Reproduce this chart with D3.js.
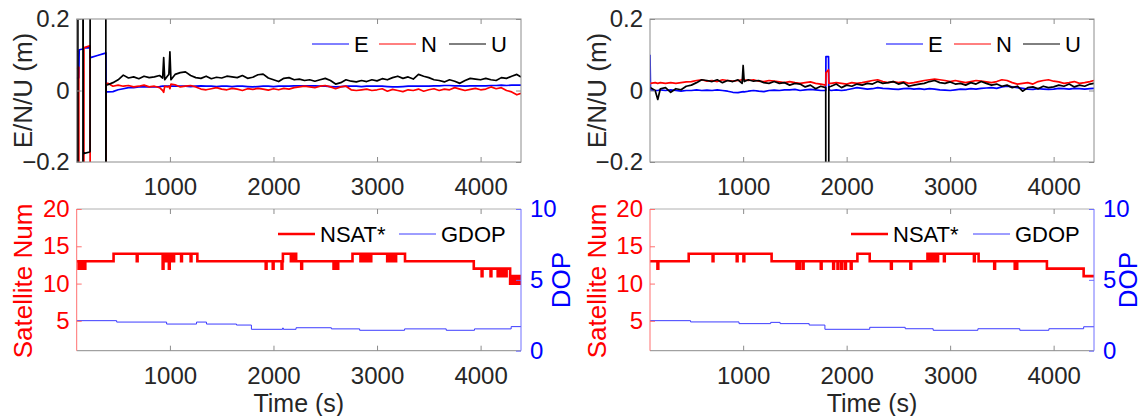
<!DOCTYPE html>
<html>
<head>
<meta charset="utf-8">
<script src="https://cdn.jsdelivr.net/npm/d3@7/dist/d3.min.js"></script>
<style>
body { margin: 0; background: #fff; }
svg text { font-family: "Liberation Sans", Arial, Helvetica, sans-serif; }
</style>
</head>
<body>
<div id="chart"></div>
<script>
// TIME AXIS
const xDomain = [100, 4390];
const xTicks = [1000, 2000, 3000, 4000];

// LEFT RUN: E/N/U ERRORS (m), values beyond +-0.2 are off the plot
const tL = [100,110,111,112,120,124,126,160,161,163,168,170,172,226,229,231,233,300,370,381,382,384,
  400,450,500,550,600,650,700,750,800,850,900,930,940,950,975,990,1000,1010,
  1050,1100,1150,1200,1250,1300,1350,1400,1450,1500,1550,1600,1650,1700,1750,1800,1850,1900,1950,2000,
  2050,2100,2150,2200,2250,2300,2350,2400,2450,2500,2550,2600,2650,2700,2750,2800,2850,2900,2950,3000,
  3050,3100,3150,3200,3250,3300,3350,3400,3450,3500,3550,3600,3650,3700,3750,3800,3850,3900,3950,4000,
  4050,4100,4150,4200,4250,4300,4350,4390];
const eL = [.033,.035,.035,.036,.036,.112,.114,.116,.116,.117,.118,.118,.119,.12,.118,.09,.092,.098,.104,.105,.105,-.004,
  -.004,-.003,.002,.005,.008,.008,.01,.01,.01,.01,.011,.012,.012,.012,.012,.012,.012,.012,
  .012,.012,.012,.011,.012,.013,.012,.012,.011,.012,.012,.011,.012,.012,.011,.01,.011,.012,.012,.011,
  .012,.012,.012,.013,.013,.013,.013,.013,.012,.012,.011,.01,.011,.012,.012,.012,.011,.012,.012,.012,
  .012,.011,.01,.01,.011,.012,.012,.012,.012,.012,.013,.013,.014,.014,.013,.013,.012,.013,.013,.013,
  .013,.014,.014,.015,.014,.015,.015,.015];
const nL = [.06,.063,.064,.063,.065,-1,-1,-1,-1,-1,-1,.118,.12,.125,.124,-1,-1,-1,-1,-1,-1,.02,
  .02,.012,.015,.012,.014,.01,.012,.015,.01,.012,.008,.0,-.005,.012,.01,.012,.005,.018,
  .016,.01,.012,.014,.01,.004,.002,.005,.008,.004,.002,.006,.004,.0,.005,.003,.006,.004,.001,.005,
  .002,.006,.004,.008,.01,.012,.01,.008,.012,.014,.01,.005,.01,.012,.002,.0,.002,.004,.0,.002,
  .005,-.002,.003,.0,-.003,.002,.0,.004,-.002,.002,.005,.0,.004,.002,.008,.004,.0,.003,.006,.002,
  .004,.01,.005,.008,.0,-.004,-.012,-.008];
const uL = [1,1,1,-1,-1,-1,-1,-1,1,-.175,-.175,-.174,-.176,-.172,-.17,1,1,1,1,1,-1,.015,
  .016,.022,.03,.043,.035,.038,.033,.04,.036,.038,.042,.035,.092,.03,.04,.045,.108,.03,
  .045,.05,.052,.042,.036,.034,.04,.033,.037,.035,.04,.038,.036,.042,.034,.037,.044,.046,.035,.03,
  .025,.034,.036,.03,.032,.028,.03,.026,.03,.034,.028,.018,.022,.03,.026,.024,.028,.025,.03,.027,
  .033,.03,.036,.04,.034,.038,.032,.045,.04,.036,.03,.028,.024,.03,.026,.02,.028,.034,.032,.03,
  .034,.03,.028,.036,.034,.04,.045,.038];

// RIGHT RUN: E/N/U ERRORS (m)
const tR = [100,105,150,175,200,250,300,350,400,450,500,550,600,650,700,750,800,850,900,950,
  990,1000,1010,1050,1100,1150,1200,1250,1300,1350,1400,1450,1500,1550,1600,1650,1700,1750,1798,1800,1825,1828,
  1850,1900,1950,2000,2050,2100,2150,2200,2250,2300,2350,2400,2450,2500,2550,2600,2650,2700,2750,2800,
  2850,2900,2950,3000,3050,3100,3150,3200,3250,3300,3350,3400,3450,3500,3550,3600,3650,3700,3750,3800,
  3850,3900,3950,4000,4050,4100,4150,4200,4250,4300,4350,4390];
const eR = [.1,.002,.0,.0,.002,.0,.002,.0,-.002,.0,.0,.002,.0,.001,.0,.002,.0,-.002,-.005,-.006,
  -.004,-.003,-.004,-.002,.0,-.002,-.003,.0,.001,.0,.002,.002,.003,.0,.002,.003,.002,.0,.0,.095,.095,.002,
  .0,.002,.0,.002,.005,.008,.006,.004,.005,.008,.006,.005,.004,.003,.005,.006,.004,.005,.003,.005,
  .004,.002,.001,.0,.002,.004,.003,.005,.004,.006,.007,.008,.006,.01,.012,.01,.008,.006,.004,.003,
  .005,.004,.003,.004,.006,.005,.004,.006,.005,.004,.005,.006];
const nR = [.02,.02,.022,.02,.022,.02,.022,.02,.022,.024,.025,.028,.03,.026,.028,.025,.03,.028,.026,.028,
  .03,.032,.03,.028,.03,.026,.025,.028,.026,.024,.022,.025,.022,.02,.022,.024,.02,.018,.015,.05,.058,.02,
  .02,.022,.02,.018,.022,.02,.022,.025,.028,.03,.025,.022,.025,.022,.024,.02,.022,.025,.028,.03,
  .032,.03,.028,.025,.028,.025,.022,.025,.028,.026,.024,.022,.025,.03,.028,.022,.018,.02,.022,.018,
  .025,.028,.03,.026,.024,.02,.022,.025,.02,.022,.025,.028];
const uR = [.01,.008,.0,-.025,.005,.008,-.005,.005,.002,.012,.015,.022,.03,.028,.025,.03,.022,.028,.025,.03,
  .02,.07,.025,.03,.026,.028,.022,.02,.025,.02,.022,.015,.02,.018,.01,.015,.005,.012,.008,-1,-1,.01,
  .012,.018,.008,.015,.012,.018,.015,.02,.018,.025,.02,.022,.025,.018,.022,.012,.015,.018,.02,.025,
  .028,.022,.02,.024,.018,.02,.015,.022,.018,.025,.02,.015,.018,.012,.015,.008,.012,-.002,.008,.01,
  .005,.012,.008,.01,.015,.012,.018,.01,.015,.012,.018,.02];

// SATELLITE NUMBER (step changes) AND GDOP
const tSatL = [100,118,124,128,136,140,150,154,166,170,183,456,680,688,
  930,938,945,955,965,972,980,990,998,1005,1012,1020,1030,1040,1108,1116,1200,1208,1265,
  1925,1933,1993,2001,2078,2086,2091,2168,2174,2180,2186,2192,2198,2205,2212,2219,2268,2276,
  2580,2590,2596,2606,2612,2625,2763,2840,2848,2855,2862,2870,2880,2888,2898,2905,2912,2920,2930,2936,2944,
  3098,3106,3112,3120,3128,3140,3148,3160,3168,3184,3270,3934,
  4010,4018,4096,4104,4165,4172,4180,4190,4198,4210,4220,4230,4240,4251,
  4285,4292,4298,4310,4316,4330,4336,4350,4356,4375,4380,4390];
const satL = [13,12,13,12,13,12,13,12,13,12,13,14,13,14,
  12,13,14,13,14,13,14,12,13,14,13,14,13,14,13,14,13,14,13,
  12,13,12,13,12,13,14,13,14,13,14,13,14,13,14,13,12,13,
  12,13,12,13,12,13,14,13,14,13,14,13,14,13,14,13,14,13,14,13,14,
  13,14,13,14,13,14,13,14,13,14,13,12,
  11,12,11,12,11,12,11,12,11,12,11,12,11,12,
  10,11,10,11,10,11,10,11,10,11,10,10];
const tDopL = [100,486,968,1257,1353,1643,1787,2088,2095,2218,2559,2832,3266,3668,3941,4295,4390];
const dopL = [2.12,2.02,1.88,2.02,1.88,1.81,1.51,1.6,1.51,1.62,1.54,1.44,1.54,1.44,1.54,1.7,1.7];

const tSatR = [100,172,180,474,705,713,938,946,1003,1011,1275,
  1516,1524,1540,1548,1576,1584,1750,1758,1870,1878,1912,1920,1948,1956,1985,1993,2040,2048,
  2104,2223,2428,2436,2616,2624,
  2781,2800,2808,2830,2838,2850,2858,2875,2883,2940,2948,3230,3238,
  3275,3426,3434,3624,3632,3640,3648,3935,4290,4390];
const satR = [13,12,13,14,13,14,13,14,13,14,13,
  12,13,12,13,12,13,12,13,12,13,12,13,12,13,12,13,12,13,
  14,13,12,13,12,13,
  14,13,14,13,14,13,14,13,14,13,14,13,14,
  13,12,13,12,13,12,13,12,11,11];
const tDopR = [100,492,960,1266,1357,1638,1790,2223,2566,2836,3268,3673,3954,4290,4390];
const dopR = [2.12,2.03,1.91,2.0,1.91,1.81,1.51,1.65,1.55,1.44,1.55,1.44,1.55,1.69,1.69];

// LAYOUT
const W = 1145, H = 416;
const colL = {x0: 76.7, x1: 521}, colR = {x0: 650, x1: 1094};
const rowTop = {y0: 19, y1: 162}, rowBot = {y0: 209, y1: 350.7};
const BOX = '#8c8c8c', INK = '#262626';

const svg = d3.select('#chart').append('svg')
  .attr('width', W).attr('height', H);
const defs = svg.append('defs');

// shared tick styling: inward ticks, no domain path
function styleAxis(g, color) {
  g.select('.domain').remove();
  g.selectAll('.tick line').attr('stroke', color);
  g.selectAll('.tick text').attr('fill', color).style('font-size', '24px');
}

function frame(col, row, id) {
  defs.append('clipPath').attr('id', id)
    .append('rect')
    .attr('x', col.x0).attr('y', row.y0)
    .attr('width', col.x1 - col.x0).attr('height', row.y1 - row.y0);
  return d3.scaleLinear().domain(xDomain).range([col.x0, col.x1]);
}

function xAxes(x, row, withLabels) {
  const b = svg.append('g').attr('transform', `translate(0,${row.y1})`)
    .call(d3.axisBottom(x).tickValues(xTicks).tickSizeInner(-5).tickSizeOuter(0).tickPadding(16)
      .tickFormat(withLabels ? d3.format('d') : ''));
  styleAxis(b, INK);
  b.selectAll('.tick line').attr('stroke', BOX);
  const t = svg.append('g').attr('transform', `translate(0,${row.y0})`)
    .call(d3.axisTop(x).tickValues(xTicks).tickSizeInner(-5).tickSizeOuter(0).tickFormat(''));
  styleAxis(t, BOX);
}

function legend(items, y) {
  items.forEach(d => {
    svg.append('line')
      .attr('x1', d.lx).attr('x2', d.lx + 37).attr('y1', y).attr('y2', y)
      .attr('stroke', d.color).attr('stroke-width', d.width);
    svg.append('text')
      .attr('x', d.lx + 42).attr('y', y + 8)
      .style('font-size', '22px').attr('fill', '#000')
      .text(d.label);
  });
}

function yLabel(text, x, y, color) {
  svg.append('text')
    .attr('transform', `translate(${x},${y})rotate(-90)`)
    .attr('text-anchor', 'middle')
    .style('font-size', '26px').attr('fill', color)
    .text(text);
}

// E/N/U PANEL
function enuPanel(col, id, t, e, n, u, legendX) {
  const x = frame(col, rowTop, id);
  const y = d3.scaleLinear().domain([-0.2, 0.2]).range([rowTop.y1, rowTop.y0]);

  const line = vals => d3.line().x((d, i) => x(t[i])).y(d => y(d))(vals);
  const plot = svg.append('g').attr('clip-path', `url(#${id})`);
  [[e, '#0000ff'], [n, '#ff0000'], [u, '#000000']].forEach(([vals, c]) => {
    plot.append('path').attr('d', line(vals))
      .attr('fill', 'none').attr('stroke', c).attr('stroke-width', 1.7)
      .attr('stroke-linejoin', 'round');
  });

  svg.append('rect')
    .attr('x', col.x0).attr('y', rowTop.y0)
    .attr('width', col.x1 - col.x0).attr('height', rowTop.y1 - rowTop.y0)
    .attr('fill', 'none').attr('stroke', BOX).attr('stroke-width', 1);

  xAxes(x, rowTop, true);
  const yl = svg.append('g').attr('transform', `translate(${col.x0},0)`)
    .call(d3.axisLeft(y).tickValues([-0.2, 0, 0.2]).tickSizeInner(-5).tickSizeOuter(0).tickPadding(7)
      .tickFormat(d => d === 0 ? '0' : d3.format('.1f')(d)));
  styleAxis(yl, INK);
  yl.selectAll('.tick line').attr('stroke', BOX);
  const yr = svg.append('g').attr('transform', `translate(${col.x1},0)`)
    .call(d3.axisRight(y).tickValues([-0.2, 0, 0.2]).tickSizeInner(-5).tickSizeOuter(0).tickFormat(''));
  styleAxis(yr, BOX);

  yLabel('E/N/U (m)', col.x0 - 44.5, (rowTop.y0 + rowTop.y1) / 2, INK);

  legend([
    {label: 'E', color: '#0000ff', width: 1, lx: legendX[0]},
    {label: 'N', color: '#ff0000', width: 1, lx: legendX[1]},
    {label: 'U', color: '#000000', width: 1, lx: legendX[2]}
  ], 44);
}

// SATELLITE / GDOP PANEL
function satPanel(col, id, tSat, sat, tDop, dop, legendX, dopLabelX) {
  const x = frame(col, rowBot, id);
  const yS = d3.scaleLinear().domain([1, 20]).range([rowBot.y1, rowBot.y0]);
  const yD = d3.scaleLinear().domain([0, 10]).range([rowBot.y1, rowBot.y0]);

  const plot = svg.append('g').attr('clip-path', `url(#${id})`);
  plot.append('path')
    .attr('d', d3.line().curve(d3.curveStepAfter).x((d, i) => x(tDop[i])).y(d => yD(d))(dop))
    .attr('fill', 'none').attr('stroke', '#3c3cff').attr('stroke-width', 1);
  plot.append('path')
    .attr('d', d3.line().curve(d3.curveStepAfter).x((d, i) => x(tSat[i])).y(d => yS(d))(sat))
    .attr('fill', 'none').attr('stroke', '#ff0000').attr('stroke-width', 2.6);

  // box: gray top/bottom, coloured sides
  svg.append('line').attr('x1', col.x0).attr('x2', col.x1).attr('y1', rowBot.y0).attr('y2', rowBot.y0).attr('stroke', '#b0b0b0');
  svg.append('line').attr('x1', col.x0).attr('x2', col.x1).attr('y1', rowBot.y1).attr('y2', rowBot.y1).attr('stroke', BOX);
  svg.append('line').attr('x1', col.x0).attr('x2', col.x0).attr('y1', rowBot.y0).attr('y2', rowBot.y1).attr('stroke', '#ff7070');
  svg.append('line').attr('x1', col.x1).attr('x2', col.x1).attr('y1', rowBot.y0).attr('y2', rowBot.y1).attr('stroke', '#7070ff');

  xAxes(x, rowBot, true);
  const yl = svg.append('g').attr('transform', `translate(${col.x0},0)`)
    .call(d3.axisLeft(yS).tickValues([5, 10, 15, 20]).tickSizeInner(-5).tickSizeOuter(0).tickPadding(7));
  styleAxis(yl, '#ff0000');
  yl.selectAll('.tick line').attr('stroke', '#ff7070');
  const yr = svg.append('g').attr('transform', `translate(${col.x1},0)`)
    .call(d3.axisRight(yD).tickValues([0, 5, 10]).tickSizeInner(-5).tickSizeOuter(0).tickPadding(9));
  styleAxis(yr, '#0000ff');
  yr.selectAll('.tick line').attr('stroke', '#7070ff');

  yLabel('Satellite Num', col.x0 - 44.5, 281, '#ff0000');
  yLabel('DOP', dopLabelX, 280, '#0000ff');

  svg.append('text')
    .attr('x', (col.x0 + col.x1) / 2).attr('y', 412)
    .attr('text-anchor', 'middle')
    .style('font-size', '25px').attr('fill', INK)
    .text('Time (s)');

  legend([
    {label: 'NSAT*', color: '#ff0000', width: 2.6, lx: legendX[0]},
    {label: 'GDOP', color: '#3c3cff', width: 1, lx: legendX[1]}
  ], 234);
}

enuPanel(colL, 'clipTL', tL, eL, nL, uL, [312, 379, 449]);
enuPanel(colR, 'clipTR', tR, eR, nR, uR, [886, 954, 1023]);
satPanel(colL, 'clipBL', tSatL, satL, tDopL, dopL, [278, 399], 570);
satPanel(colR, 'clipBR', tSatR, satR, tDopR, dopR, [851, 973], 1137);
</script>
</body>
</html>
